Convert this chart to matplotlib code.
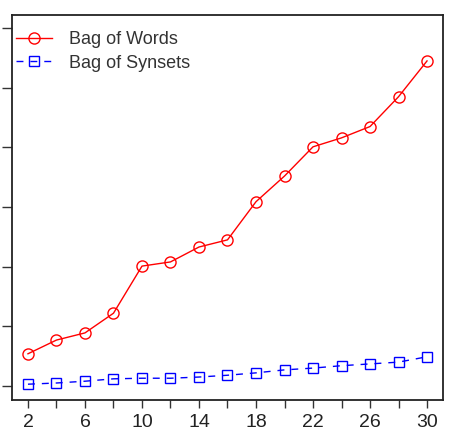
import matplotlib
matplotlib.use("Agg")
import matplotlib.pyplot as plt

plt.rcParams['font.family'] = ['Liberation Sans', 'DejaVu Sans']

x_values = [2, 4, 6, 8, 10, 12, 14, 16, 18, 20, 22, 24, 26, 28, 30]
bag_of_words = [0.54, 0.77, 0.89, 1.22, 2.01, 2.08, 2.33, 2.45, 3.09, 3.52, 4.01, 4.16, 4.35, 4.85, 5.45]
bag_of_synsets = [0.03, 0.05, 0.08, 0.12, 0.13, 0.13, 0.15, 0.18, 0.22, 0.27, 0.30, 0.34, 0.37, 0.40, 0.49]
x_ticks = [2, 6, 10, 14, 18, 22, 26, 30]
x_minor = [4, 8, 12, 16, 20, 24, 28]
y_ticks = [0, 1, 2, 3, 4, 5, 6]

fig = plt.figure(figsize=(4.49, 4.45), dpi=100)
ax = fig.add_axes([12/449, 45/445, 431/449, 385/445])

ax.plot(x_values, bag_of_words, color='#FF0000', lw=1.0, marker='o', ms=8,
        mfc='none', mec='#FF0000', mew=1.0, label='Bag of Words')
ax.plot(x_values, bag_of_synsets, color='#0000FF', lw=1.0, ls=(0, (5, 5)), marker='s', ms=7,
        mfc='none', mec='#0000FF', mew=1.0, label='Bag of Synsets')

ax.set_xlim(0.88, 31.12)
ax.set_ylim(-0.235, 6.22)
ax.set_xticks(x_ticks)
ax.set_xticks(x_minor, minor=True)
ax.set_yticks(y_ticks)
ax.set_yticklabels([])
ax.tick_params(axis='x', which='both', length=6, width=1, color='#333333', labelsize=14,
               labelcolor='#222222', pad=4)
ax.tick_params(axis='y', length=7, width=1, color='#333333')
for s in ax.spines.values():
    s.set_linewidth(1.3)
    s.set_color('#222222')

leg = ax.legend(loc='upper left', bbox_to_anchor=(-1.4/431, 1 - 11/385), frameon=False,
                fontsize=13, handlelength=2.0, borderaxespad=0, labelspacing=0.35,
                handletextpad=0.95, borderpad=0.3)
for t in leg.get_texts():
    t.set_color('#333333')

fig.savefig('out.png', dpi=100)
